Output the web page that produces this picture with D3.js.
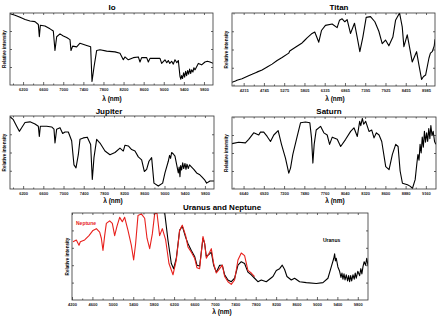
<!DOCTYPE html>
<html>
<head>
<meta charset="utf-8">
<script src="https://cdn.jsdelivr.net/npm/d3@7"></script>
<style>
  body { margin: 0; background: #fff; }
  svg { font-family: "Liberation Sans", Arial, sans-serif; font-weight: bold; }
</style>
</head>
<body>
<svg width="447" height="316"></svg>
<script>
// spectra: [wavelength nm, relative intensity]
const io = [[5940,0.99],[6040,0.97],[6140,0.94],[6240,0.91],[6338,0.89],[6437,0.88],[6504,0.84],[6524,0.67],[6544,0.83],
  [6636,0.82],[6736,0.78],[6802,0.75],[6835,0.48],[6869,0.67],[6935,0.71],[7001,0.68],[7068,0.66],[7134,0.63],[7154,0.48],
  [7187,0.54],[7267,0.53],[7333,0.58],[7466,0.55],[7545,0.53],[7572,0.05],[7612,0.25],[7665,0.48],[7731,0.49],[7864,0.47],
  [8030,0.46],[8129,0.44],[8195,0.35],[8228,0.39],[8295,0.35],[8394,0.38],[8494,0.39],[8527,0.32],[8560,0.38],[8660,0.38],
  [8693,0.32],[8726,0.37],[8925,0.37],[8958,0.30],[9024,0.35],[9060,0.31],[9091,0.34],[9120,0.30],[9157,0.33],[9190,0.29],
  [9223,0.35],[9260,0.31],[9290,0.34],[9323,0.12],[9340,0.08],[9356,0.13],[9375,0.09],[9395,0.17],[9415,0.11],[9435,0.19],
  [9455,0.13],[9475,0.20],[9495,0.15],[9515,0.22],[9535,0.16],[9555,0.21],[9580,0.18],[9600,0.24],[9621,0.21],[9688,0.30],
  [9754,0.28],[9820,0.32],[9870,0.33],[9920,0.32],[9986,0.30]];

const titan = [[3910,0.05],[4000,0.07],[4040,0.08],[4172,0.10],[4300,0.13],[4434,0.16],[4560,0.19],[4696,0.22],[4830,0.26],
  [4958,0.30],[5090,0.35],[5220,0.39],[5394,0.45],[5420,0.48],[5569,0.53],[5743,0.59],[5800,0.62],[5874,0.66],[6005,0.72],
  [6075,0.74],[6180,0.60],[6250,0.76],[6354,0.83],[6529,0.85],[6660,0.80],[6721,0.90],[6791,0.92],[6861,0.88],[6922,0.91],
  [7009,0.72],[7114,0.86],[7184,0.67],[7254,0.47],[7333,0.67],[7420,0.94],[7533,0.95],[7647,0.88],[7751,0.75],[7839,0.58],
  [7926,0.63],[8013,0.55],[8118,0.67],[8188,0.90],[8293,1.00],[8363,0.81],[8406,0.54],[8494,0.70],[8537,0.58],[8624,0.33],
  [8738,0.47],[8799,0.29],[8869,0.09],[8920,0.13],[8974,0.15],[9061,0.38],[9100,0.45],[9148,0.47],[9200,0.55],[9220,0.64]];

const jupiter = [[5940,0.99],[6006,0.95],[6072,0.86],[6125,0.79],[6171,0.84],[6237,0.91],[6336,0.92],[6435,0.89],[6501,0.86],
  [6521,0.72],[6541,0.86],[6666,0.86],[6765,0.85],[6811,0.82],[6831,0.63],[6864,0.82],[6930,0.84],[6983,0.76],[7029,0.78],
  [7095,0.78],[7161,0.66],[7207,0.33],[7247,0.29],[7293,0.47],[7326,0.68],[7392,0.70],[7471,0.71],[7537,0.61],[7570,0.13],
  [7603,0.43],[7656,0.68],[7722,0.63],[7821,0.52],[7920,0.47],[8019,0.50],[8118,0.56],[8184,0.52],[8217,0.60],[8283,0.59],
  [8349,0.54],[8415,0.52],[8481,0.44],[8547,0.40],[8600,0.24],[8646,0.27],[8692,0.38],[8745,0.43],[8791,0.08],[8877,0.04],
  [8963,0.08],[9009,0.22],[9075,0.38],[9100,0.46],[9120,0.42],[9141,0.50],[9175,0.48],[9207,0.45],[9273,0.22],[9290,0.30],
  [9306,0.17],[9320,0.32],[9339,0.26],[9360,0.36],[9380,0.28],[9405,0.35],[9425,0.27],[9445,0.34],[9471,0.28],[9495,0.33],
  [9537,0.30],[9580,0.27],[9636,0.22],[9690,0.20],[9735,0.17],[9790,0.13],[9834,0.08],[9900,0.11],[9979,0.11]];

const saturn = [[6480,0.63],[6572,0.65],[6665,0.64],[6711,0.69],[6780,0.78],[6850,0.75],[6873,0.79],[6919,0.79],[6966,0.73],
  [7012,0.66],[7058,0.75],[7118,0.81],[7164,0.62],[7219,0.43],[7265,0.22],[7289,0.29],[7321,0.48],[7381,0.73],[7427,0.92],
  [7496,0.93],[7556,0.92],[7579,0.71],[7598,0.36],[7616,0.62],[7644,0.82],[7704,0.87],[7750,0.78],[7796,0.75],[7829,0.62],
  [7866,0.72],[7935,0.69],[7982,0.59],[8051,0.69],[8120,0.80],[8166,0.85],[8212,0.73],[8245,0.94],[8260,0.88],[8282,0.98],
  [8300,0.90],[8328,0.94],[8374,0.80],[8411,0.82],[8443,0.71],[8476,0.78],[8513,0.75],[8550,0.66],[8605,0.31],[8651,0.27],
  [8697,0.48],[8743,0.62],[8776,0.59],[8804,0.25],[8836,0.08],[8906,0.06],[8940,0.04],[8975,0.01],[9012,0.13],[9035,0.35],
  [9050,0.48],[9065,0.40],[9080,0.62],[9095,0.50],[9110,0.72],[9125,0.58],[9140,0.80],[9155,0.65],[9170,0.78],[9185,0.66],
  [9200,0.84],[9215,0.70],[9229,0.88],[9245,0.74],[9261,0.80],[9280,0.66],[9298,0.62]];

const neptune = [[4220,0.67],[4285,0.69],[4337,0.63],[4363,0.67],[4448,0.69],[4533,0.74],[4611,0.80],[4677,0.82],[4742,0.78],
  [4775,0.71],[4807,0.57],[4840,0.74],[4873,0.88],[4938,0.91],[4990,0.88],[5036,0.74],[5082,0.85],[5134,0.95],[5186,0.90],
  [5232,0.95],[5297,0.80],[5362,0.63],[5408,0.46],[5447,0.65],[5493,0.97],[5558,0.99],[5624,0.94],[5670,0.71],[5722,0.59],
  [5774,0.76],[5820,0.99],[5865,1.00],[5917,0.74],[5970,0.82],[6035,0.69],[6100,0.42],[6179,0.29],[6244,0.46],[6309,0.80],
  [6361,0.86],[6427,0.74],[6472,0.61],[6538,0.55],[6603,0.48],[6649,0.37],[6701,0.36],[6766,0.73],[6799,0.65],[6832,0.48],
  [6897,0.55],[6930,0.59],[6975,0.42],[7028,0.31],[7093,0.36],[7145,0.40],[7191,0.27],[7256,0.21],[7321,0.18],[7386,0.23],
  [7452,0.46],[7517,0.54],[7582,0.51],[7647,0.34],[7713,0.31],[7778,0.27]];

const uranus = [[6000,1.15],[6015,1.01],[6080,0.69],[6146,0.42],[6192,0.36],[6244,0.48],[6309,0.80],[6361,0.85],[6427,0.72],
  [6472,0.65],[6538,0.57],[6603,0.50],[6649,0.40],[6701,0.39],[6766,0.71],[6799,0.65],[6832,0.50],[6897,0.53],[6930,0.55],
  [6975,0.40],[7028,0.32],[7093,0.40],[7145,0.40],[7191,0.29],[7256,0.23],[7321,0.21],[7386,0.25],[7452,0.40],[7517,0.44],
  [7582,0.42],[7647,0.32],[7713,0.29],[7778,0.25],[7843,0.21],[7909,0.23],[8007,0.21],[8138,0.27],[8203,0.34],[8268,0.36],
  [8320,0.40],[8366,0.35],[8412,0.27],[8497,0.23],[8562,0.25],[8660,0.21],[8791,0.20],[8987,0.19],[9117,0.20],[9215,0.25],
  [9280,0.38],[9330,0.48],[9346,0.53],[9362,0.45],[9378,0.48],[9410,0.38],[9444,0.33],[9470,0.26],[9490,0.31],[9509,0.24],
  [9530,0.30],[9550,0.23],[9574,0.29],[9600,0.22],[9620,0.28],[9640,0.21],[9660,0.28],[9680,0.22],[9705,0.29],[9730,0.24],
  [9750,0.31],[9770,0.25],[9800,0.33],[9836,0.28],[9860,0.36],[9880,0.30],[9901,0.38],[9925,0.44],[9953,0.40],[9975,0.48],[9999,0.40]];

const ioTicks = [6200, 6600, 7000, 7400, 7800, 8200, 8600, 9000, 9400, 9800];
const titanTicks = [4215, 4745, 5275, 5805, 6335, 6865, 7395, 7925, 8455, 8985];
const saturnTicks = [6640, 6920, 7200, 7480, 7760, 8040, 8320, 8600, 8880, 9160];
const unTicks = [4200, 4600, 5000, 5400, 5800, 6200, 6600, 7000, 7400, 7800, 8200, 8600, 9000, 9400, 9800];

const svg = d3.select("svg");

function panel(o) {
  const g = svg.append("g");
  const x = d3.scaleLinear().domain(o.domain).range([o.x0, o.x1]);
  const y = d3.scaleLinear().domain([0, 1]).range([o.y1, o.y0]);
  const step = o.ticks[1] - o.ticks[0];
  const minor = o.ticks.map(t => t + step / 2).concat([o.ticks[0] - step / 2])
    .filter(t => t > o.domain[0] && t < o.domain[1]);
  const yt = d3.range(1, o.ny).map(i => i / o.ny);

  const clipId = "clip" + o.id;
  g.append("clipPath").attr("id", clipId).append("rect")
    .attr("x", o.x0).attr("y", o.y0).attr("width", o.x1 - o.x0).attr("height", o.y1 - o.y0);

  const line = d3.line().x(d => x(d[0])).y(d => y(d[1]));
  o.series.forEach(s => {
    g.append("path").datum(s.data)
      .attr("clip-path", `url(#${clipId})`)
      .attr("fill", "none").attr("stroke", s.color).attr("stroke-width", 1.1)
      .attr("stroke-linejoin", "round").attr("d", line);
  });

  const ax = (axis, tr) => {
    const a = g.append("g").attr("transform", tr).call(axis);
    a.select(".domain").remove();
    a.selectAll("line").attr("stroke", "#000").attr("stroke-width", 0.6);
    return a;
  };
  const bot = ax(d3.axisBottom(x).tickValues(o.ticks).tickSize(-3).tickPadding(3).tickFormat(d3.format("d")), `translate(0,${o.y1})`);
  bot.selectAll("text").attr("font-size", 4).attr("fill", "#222");
  ax(d3.axisBottom(x).tickValues(minor).tickSize(-1.5).tickFormat(""), `translate(0,${o.y1})`);
  ax(d3.axisTop(x).tickValues(o.ticks).tickSize(-2).tickFormat(""), `translate(0,${o.y0})`);
  ax(d3.axisTop(x).tickValues(minor).tickSize(-1.5).tickFormat(""), `translate(0,${o.y0})`);
  ax(d3.axisLeft(y).tickValues(yt).tickSize(-2).tickFormat(""), `translate(${o.x0},0)`);
  ax(d3.axisRight(y).tickValues(yt).tickSize(-2).tickFormat(""), `translate(${o.x1},0)`);

  g.append("rect").attr("x", o.x0).attr("y", o.y0).attr("width", o.x1 - o.x0).attr("height", o.y1 - o.y0)
    .attr("fill", "none").attr("stroke", "#333").attr("stroke-width", 0.8);

  g.append("text").attr("x", o.tx).attr("y", o.ty).attr("text-anchor", "middle")
    .attr("font-size", 8).text(o.title);
  g.append("text").attr("x", o.lx).attr("y", o.ly).attr("text-anchor", "middle")
    .attr("font-size", 6.5).text("λ (nm)");
  g.append("text").attr("transform", `translate(${o.yx},${(o.y0 + o.y1) / 2}) rotate(-90)`)
    .attr("text-anchor", "middle").attr("font-size", 4.6).text("Relative intensity");
  return { g, x, y };
}

panel({ id: 1, title: "Io", domain: [5940, 9980], x0: 10, x1: 213, y0: 13, y1: 85, ny: 4, ticks: ioTicks,
  tx: 112, ty: 10, lx: 112, ly: 101, yx: 6, series: [{ data: io, color: "#000" }] });
panel({ id: 2, title: "Titan", domain: [3910, 9220], x0: 232, x1: 435, y0: 13, y1: 86, ny: 4, ticks: titanTicks,
  tx: 339, ty: 10, lx: 335, ly: 101, yx: 228, series: [{ data: titan, color: "#000" }] });
panel({ id: 3, title: "Jupiter", domain: [5940, 9980], x0: 10, x1: 214, y0: 116, y1: 189, ny: 4, ticks: ioTicks,
  tx: 109, ty: 114, lx: 113, ly: 203, yx: 6, series: [{ data: jupiter, color: "#000" }] });
panel({ id: 4, title: "Saturn", domain: [6480, 9300], x0: 232, x1: 436, y0: 117, y1: 189, ny: 4, ticks: saturnTicks,
  tx: 329, ty: 114, lx: 335, ly: 203, yx: 228, series: [{ data: saturn, color: "#000" }] });
const un = panel({ id: 5, title: "Uranus and Neptune", domain: [4200, 10000], x0: 72, x1: 368, y0: 213, y1: 300, ny: 5,
  ticks: unTicks, tx: 222, ty: 210, lx: 222, ly: 314, yx: 69,
  series: [{ data: uranus, color: "#000" }, { data: neptune, color: "#e8211d" }] });

un.g.append("text").attr("x", 76).attr("y", 225).attr("font-size", 5).attr("fill", "#e8211d").text("Neptune");
un.g.append("text").attr("x", 323).attr("y", 242).attr("font-size", 5).attr("fill", "#000").text("Uranus");
</script>
</body>
</html>
